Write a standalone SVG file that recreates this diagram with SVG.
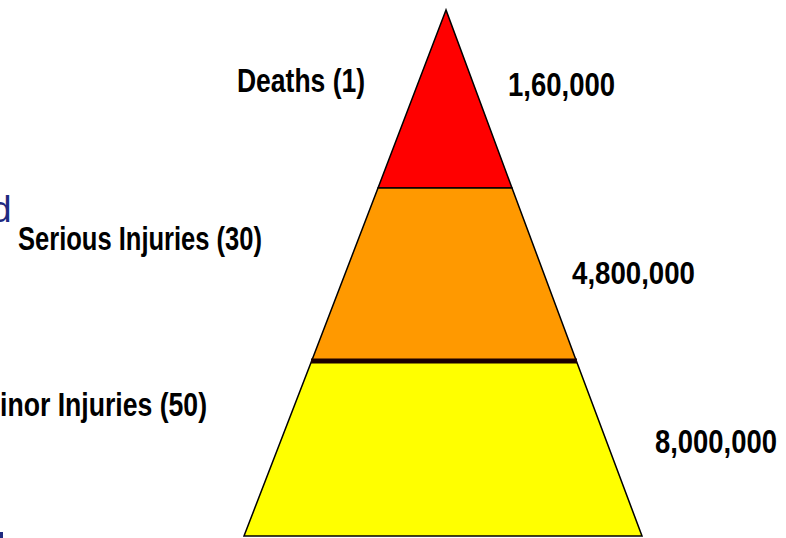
<svg xmlns="http://www.w3.org/2000/svg" width="786" height="538" viewBox="0 0 786 538">
<style>
.lbl{font-family:"Liberation Sans Narrow","Liberation Sans",Arial,sans-serif;font-weight:bold;fill:#000}
.num{font-family:"Liberation Sans Narrow","Liberation Sans",Arial,sans-serif;font-weight:bold;fill:#000}
.band{stroke:#000;stroke-width:1.5;stroke-linejoin:miter}
</style>
<rect width="786" height="538" fill="#fff"/>
<g id="pyramid">
<g id="deaths"><polygon class="band" points="446,10 378,188 512,188" fill="#ff0000"/></g>
<g id="serious"><polygon class="band" points="378,188 512,188 576,360 312,360" fill="#ff9900"/></g>
<g id="minor"><polygon class="band" points="312,360 576,360 642,536 244,536" fill="#ffff00"/></g>
</g>
<g id="connectors">
<line x1="311" y1="361" x2="577" y2="361" stroke="#1a0000" stroke-width="5"/>
</g>
<g id="labels">
<text class="lbl" x="237" y="92" font-size="33" textLength="128" lengthAdjust="spacingAndGlyphs">Deaths (1)</text>
<text class="lbl" x="18" y="250" font-size="34" textLength="244" lengthAdjust="spacingAndGlyphs">Serious Injuries (30)</text>
<text class="lbl" x="0" y="416" font-size="33" textLength="207" lengthAdjust="spacingAndGlyphs">inor Injuries (50)</text>
<text class="num" x="508" y="96" font-size="33" textLength="107" lengthAdjust="spacingAndGlyphs">1,60,000</text>
<text class="num" x="572" y="284" font-size="31" textLength="123" lengthAdjust="spacingAndGlyphs" font-family="Liberation Serif">4,800,000</text>
<text class="num" x="655" y="453" font-size="33" textLength="122" lengthAdjust="spacingAndGlyphs">8,000,000</text>
<text x="-9" y="222" font-family="Liberation Sans,Arial,sans-serif" font-size="37" fill="#1f2a80">d</text>
</g>
<rect x="0" y="532" width="3" height="6" fill="#1f2a80"/>
</svg>
